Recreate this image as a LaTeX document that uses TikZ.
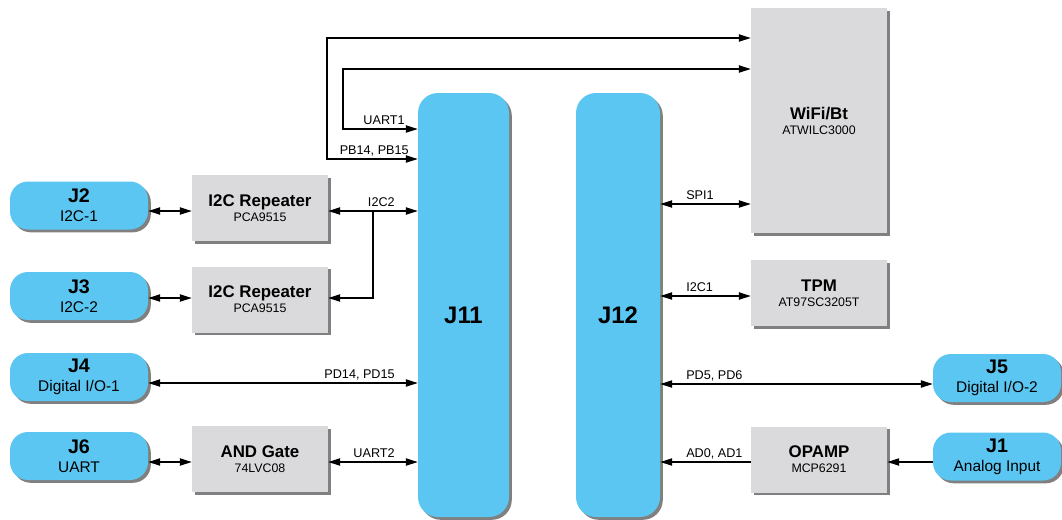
\documentclass[tikz,border=0pt]{standalone}
\usepackage{fontspec}
\setmainfont{Liberation Sans}
\usetikzlibrary{arrows.meta,shadows,calc}
\definecolor{hdrfill}{HTML}{5BC6F2}
\definecolor{chipfill}{HTML}{DADADC}
\definecolor{shadowgray}{HTML}{808080}
\newcommand{\hdrtitle}{\fontsize{14}{14}\selectfont\bfseries}
\newcommand{\chiptitle}{\fontsize{12}{12}\selectfont\bfseries}

\begin{document}
\begin{tikzpicture}[>={Triangle[length=8.5pt,width=5.2pt]},
  every node/.style={align=center},
  hdr/.style={fill=hdrfill, rounded corners=0.45cm,
    minimum width=3.45cm, minimum height=1.2cm,
    font=\fontsize{11}{13.5}\selectfont,
    drop shadow={shadow xshift=2pt, shadow yshift=-2pt, fill=shadowgray, opacity=1}},
  chip/.style={fill=chipfill, minimum width=3.4cm, minimum height=1.65cm,
    font=\fontsize{8.8}{10.7}\selectfont,
    drop shadow={shadow xshift=2pt, shadow yshift=-2pt, fill=shadowgray, opacity=1}},
  bus/.style={fill=hdrfill, rounded corners=0.5cm, minimum height=10.6cm,
    font=\fontsize{17}{17}\selectfont\bfseries, text height=26pt,
    drop shadow={shadow xshift=2pt, shadow yshift=-2pt, fill=shadowgray, opacity=1}},
  wire/.style={line width=0.9pt},
  sig/.style={font=\fontsize{9}{10}\selectfont, inner sep=0pt}]

%%=== COORDINATE PLAN (cm) ===========================================
%%  Canvas: 26.55 x 12.975  (0,0) = top-left, y downwards negative
%%  Headers left x=1.975 · chips left x=6.5 · J11 x=11.59 · J12 x=15.45
%%  Chips right x=20.475 · headers right x=24.925
%%  Wire rows (left):  -5.275  -7.45  -9.575  -11.55
%%  Wire rows (right): -5.1    -7.4   -9.6    -11.55
%%  Loop wires to WiFi: outer x=8.175 (y -0.95/-3.975)
%%                      inner x=8.575 (y -1.725/-3.225)
%%====================================================================
\useasboundingbox (0,0) rectangle (26.55,-12.975);

%% --- Header buses --------------------------------------------------
\node[bus, minimum width=2.275cm] (J11) at (11.5875,-7.625) {J11};
\node[bus, minimum width=2.1cm]   (J12) at (15.45,-7.625)   {J12};

%% --- Left side -----------------------------------------------------
\node[hdr] (J2) at (1.975,-5.1375) {{\hdrtitle J2}\\I2C-1};
\node[hdr] (J3) at (1.975,-7.4)    {{\hdrtitle J3}\\I2C-2};
\node[hdr] (J4) at (1.975,-9.425)  {{\hdrtitle J4}\\Digital I/O-1};
\node[hdr] (J6) at (1.975,-11.4)   {{\hdrtitle J6}\\UART};

\node[chip] (repA) at (6.5,-5.2)    {{\chiptitle I2C Repeater}\\PCA9515};
\node[chip] (repB) at (6.5,-7.4875) {{\chiptitle I2C Repeater}\\PCA9515};
\node[chip] (andg) at (6.5,-11.475) {{\chiptitle AND Gate}\\74LVC08};

%% --- Right side ----------------------------------------------------
\node[chip, minimum height=5.625cm] (wifi) at (20.475,-3.0125)
  {{\chiptitle WiFi/Bt}\\ATWILC3000};
\node[chip] (tpm)   at (20.475,-7.325)  {{\chiptitle TPM}\\AT97SC3205T};
\node[chip] (opamp) at (20.475,-11.4875) {{\chiptitle OPAMP}\\MCP6291};

\node[hdr, minimum width=3.2cm] (J5) at (24.925,-9.45)   {{\hdrtitle J5}\\Digital I/O-2};
\node[hdr, minimum width=3.2cm] (J1) at (24.925,-11.4125) {{\hdrtitle J1}\\Analog Input};

%% --- Wire rows -----------------------------------------------------
\coordinate (rowA) at (0,-5.275);
\coordinate (rowB) at (0,-7.45);
\coordinate (rowC) at (0,-9.575);
\coordinate (rowD) at (0,-11.55);
\coordinate (rowSPI) at (0,-5.1);
\coordinate (rowTPM) at (0,-7.4);
\coordinate (rowDIO) at (0,-9.6);
\coordinate (rowAIN) at (0,-11.55);

%% --- Loop wires J11 -> WiFi ----------------------------------------
\coordinate (pbLow)  at (8.175,-3.975);
\coordinate (pbHigh) at (8.175,-0.95);
\coordinate (uaLow)  at (8.575,-3.225);
\coordinate (uaHigh) at (8.575,-1.725);
\draw[wire, <->] (pbLow -| J11.west) -- (pbLow) -- (pbHigh) -- (pbHigh -| wifi.west);
\draw[wire, <->] (uaLow -| J11.west) -- (uaLow) -- (uaHigh) -- (uaHigh -| wifi.west);
\node[sig, anchor=base east] (lblPB) at (10.225,-3.85) {PB14, PB15};
\node[sig, anchor=base east] (lblUA) at (10.125,-3.1)  {UART1};

%% --- Left wires ----------------------------------------------------
\draw[wire, <->] (J2.east |- rowA) -- (repA.west |- rowA);
\draw[wire, <->] (J3.east |- rowB) -- (repB.west |- rowB);
\draw[wire, <->] (J6.east |- rowD) -- (andg.west |- rowD);
\draw[wire, <->] (repA.east |- rowA) -- (J11.west |- rowA);
\coordinate (tap) at ($(repA.east |- rowA)!0.5!(J11.west |- rowA)$);
\draw[wire, ->] (tap) |- (repB.east |- rowB);
\node[sig, anchor=base east] (lblI2C2) at (9.875,-5.15) {I2C2};
\draw[wire, <->] (J4.east |- rowC) -- (J11.west |- rowC);
\node[sig, anchor=base east] (lblPD14) at (9.875,-9.45) {PD14, PD15};
\draw[wire, <->] (andg.east |- rowD) -- (J11.west |- rowD);
\node[sig, anchor=base east] (lblUA2) at (9.875,-11.425) {UART2};

%% --- Right wires ---------------------------------------------------
\draw[wire, <->] (J12.east |- rowSPI) -- (wifi.west |- rowSPI);
\node[sig, anchor=base west] (lblSPI) at (17.15,-4.975) {SPI1};
\draw[wire, <->] (J12.east |- rowTPM) -- (tpm.west |- rowTPM);
\node[sig, anchor=base west] (lblI2C1) at (17.15,-7.275) {I2C1};
\draw[wire, <->] (J12.east |- rowDIO) -- (J5.west |- rowDIO);
\node[sig, anchor=base west] (lblPD5) at (17.15,-9.475) {PD5, PD6};
\draw[wire, ->] (opamp.west |- rowAIN) -- (J12.east |- rowAIN);
\node[sig, anchor=base west] (lblAD) at (17.15,-11.425) {AD0, AD1};
\draw[wire, ->] (J1.west |- rowAIN) -- (opamp.east |- rowAIN);

\end{tikzpicture}
\end{document}
